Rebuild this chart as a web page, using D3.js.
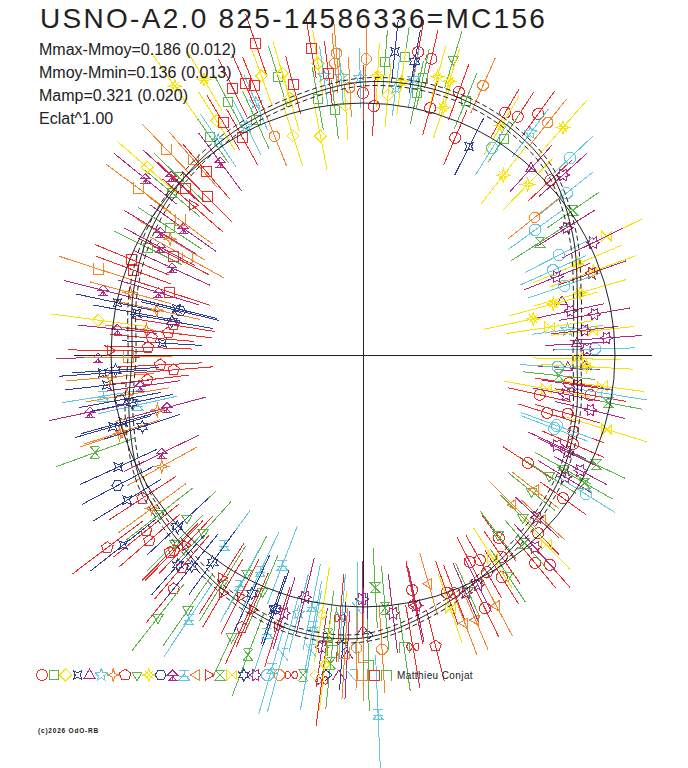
<!DOCTYPE html>
<html lang="en">
<head>
<meta charset="UTF-8">
<title>USNO-A2.0 825-14586336=MC156</title>
<script src="https://d3js.org/d3.v7.min.js"></script>
<style>
  body { margin: 0; background: white; }
  svg { display: block; background: white; font-family: "Liberation Sans", Arial, sans-serif; }
  .title { font-size: 28px; fill: #222; letter-spacing: 2.3px; }
  .stat { font-size: 16px; fill: #222; }
  .author { font-size: 10px; fill: #222; letter-spacing: 0.4px; }
  .copy { font-size: 6.5px; fill: #222; font-weight: bold; letter-spacing: 0.8px; }
  .mark path, .mark line, .legend path { fill: none; stroke-width: 1; shape-rendering: crispEdges; }
  .axis line { stroke: #222; stroke-width: 1; shape-rendering: crispEdges; }
  .curve { fill: none; stroke: #222; stroke-width: 1; }
</style>
</head>
<body>
<div id="container"></div>
<script>
const title = "USNO-A2.0 825-14586336=MC156";
const stats = ["Mmax-Mmoy=0.186 (0.012)", "Mmoy-Mmin=0.136 (0.013)", "Mamp=0.321 (0.020)", "Eclat^1.00"];
const author = "Matthieu Conjat";
const copyright = "(c)2026 OdO-RB";

// mean light curve: phase angle (deg) and magnitude offset from the reference circle
const meanPhase = [0, 15, 30, 45, 60, 75, 90, 105, 120, 135, 150, 165, 180, 195, 210, 225, 240, 255, 270, 285, 300, 315, 330, 345];
const meanMag = [-0.19, -0.15, -0.05, 0.055, 0.10, 0.115, 0.105, 0.06, 0.03, 0.0, -0.03, -0.07, -0.105, -0.05, 0.02, 0.05, 0.11, 0.16, 0.155, 0.07, -0.01, -0.065, -0.105, -0.155];
const meanSigma = 0.02;

// observing sessions: [phase angle deg, mag offset, error]
const s00 = [[352.3,-0.22,0.17],[347.3,-0.355,0.16],[350,-0.105,0.18],[342.5,-0.295,0.15],[344,-0.195,0.17],[340,-0.14,0.16],[337,-0.12,0.17],[70,0.14,0.15],[59.6,0.145,0.14],[57,0.16,0.15],[54,0.23,0.14],[67,-0.08,0.15],[43,0.02,0.15],[79.7,0.28,0.16],[77,0.26,0.15],[90,0.05,0.14],[87.5,-0.015,0.15],[74.8,0.02,0.14],[281.8,-0.06,0.15],[326.8,-0.275,0.15],[324.4,-0.03,0.14],[314.5,-0.01,0.15],[306.6,-0.12,0.14],[309.6,0.09,0.16],[311.7,0.145,0.15],[297.3,-0.095,0.14],[304.5,-0.035,0.16],[299.7,-0.01,0.15],[302,0.05,0.16],[291,0.015,0.15],[295.7,0.145,0.16],[289.4,0,0.17],[299.7,-0.08,0.14]];
const s01 = [[68,0.11,0.15],[57,0.03,0.14],[85.7,0.21,0.16],[82,0.245,0.15],[77.8,0.155,0.15],[78.4,0.08,0.16],[100,0.04,0.16],[96.5,-0.025,0.15],[107,0.195,0.16],[118,0.175,0.15],[114.5,0.03,0.16],[125,0.07,0.16],[136,0.02,0.17],[139.7,-0.01,0.18],[146.7,-0.105,0.19],[153.5,-0.06,0.19]];
const s02 = [[98.8,0.215,0.17],[84.5,0.045,0.16],[101,-0.145,0.17],[107.7,-0.11,0.16],[106,0.205,0.17],[110,0.225,0.16],[105.9,0.075,0.17],[139,0.17,0.2],[172.5,0.075,0.24],[94,-0.01,0.17],[122,0.12,0.17]];
const s03 = [[84,0.265,0.16],[168,-0.005,0.21],[166,-0.3,0.21],[169.5,-0.11,0.22],[176.6,-0.255,0.2],[184,0.045,0.22],[186.7,0.03,0.21],[195.6,-0.015,0.22],[196,0.04,0.2],[204.6,0.085,0.21],[211.6,0.125,0.2],[218.4,0.27,0.21],[250.6,0.09,0.18],[63,-0.09,0.16]];
const s04 = [[15,-0.23,0.17],[356.4,-0.235,0.16],[357,-0.15,0.17],[48,-0.005,0.16],[3,-0.19,0.16]];
const s05 = [[7,-0.23,0.18],[53,0.13,0.15],[98,0.15,0.15],[94.5,0.135,0.14],[90.6,0.125,0.15],[83,0.085,0.14],[79.6,0.145,0.15],[113,0.11,0.15],[117,0.02,0.16],[124,0.035,0.16],[256,0.07,0.2]];
const s06 = [[149,-0.135,0.2],[165,-0.055,0.21],[167.7,-0.205,0.22],[173.4,-0.17,0.21],[185,0.01,0.22],[189.6,-0.065,0.21],[195,-0.195,0.22],[197.7,0.005,0.2],[198,0.02,0.21],[209,-0.11,0.2],[216,0.045,0.21]];
const s07 = [[171,-0.3,0.21],[173.5,-0.28,0.22],[175.4,-0.2,0.21],[178,-0.185,0.22],[182.8,-0.245,0.21],[184.5,-0.31,0.2],[186.6,-0.175,0.21],[213,0.055,0.2],[217,0.34,0.22],[219,0.135,0.21],[221,0.155,0.2],[226,0.1,0.21],[225.6,0.12,0.2],[229.5,0.135,0.21],[231,0.245,0.22],[246,0.23,0.2],[284,0.24,0.18]];
const s08 = [[73,0.285,0.15],[218,0.03,0.21],[222.8,-0.06,0.2],[228,-0.065,0.21],[225,0.07,0.2],[238.4,0.08,0.22],[242,-0.025,0.21],[235.5,0.285,0.22],[232,0.405,0.21],[245,0.295,0.22],[247,0.025,0.2],[330.5,-0.11,0.16],[327,-0.15,0.16],[321,-0.175,0.15],[314.5,-0.12,0.16],[306.9,-0.135,0.15],[303.3,0.06,0.16],[294,0.03,0.15]];
const s09 = [[23,-0.095,0.24],[20,-0.035,0.23],[16,-0.13,0.24],[15,-0.275,0.23],[12,-0.39,0.25],[357,-0.14,0.23],[72.5,0.175,0.17],[72,0.04,0.16],[48.7,0.255,0.18],[58.9,0.08,0.17],[52,-0.12,0.18],[46,-0.075,0.18],[87,0.14,0.16],[82,0.12,0.17],[75,0.18,0.16],[125,0.38,0.2],[120,0.33,0.18]];
const s10 = [[166.5,-0.32,0.2],[190.5,-0.025,0.21],[208,0.13,0.2]];
const s11 = [[137,0.05,0.19],[141,0.14,0.2],[126.5,-0.06,0.18],[144.8,-0.16,0.2],[148.8,-0.075,0.21],[152,-0.11,0.2],[155.5,-0.21,0.21],[166,0.08,0.2],[163,-0.19,0.21],[174,-0.025,0.2],[180.6,0.065,0.21],[188,-0.135,0.2],[191.8,0.135,0.21],[195,-0.245,0.2],[206,-0.14,0.21]];
const s12 = [[189,0.055,0.21],[192.5,-0.105,0.2],[234,-0.08,0.22],[241.9,0.045,0.21],[244.6,-0.06,0.22],[249,-0.135,0.21],[236.6,0.325,0.22],[251,0.21,0.23],[258.5,0.025,0.22],[259.6,0.12,0.23],[253.8,0.37,0.24],[272.4,0.54,0.3]];
const s13 = [[286,-0.07,0.16],[321.9,-0.165,0.15],[315,-0.2,0.16],[317.5,-0.04,0.15],[298,0.16,0.17],[293,0.18,0.16],[290.8,0.175,0.17]];
const s14 = [[138.7,-0.125,0.2],[179,0.005,0.21],[227,0.04,0.2],[237.7,0.06,0.21],[239.5,0.12,0.2],[243,0.095,0.21],[246.5,0.13,0.2],[252.5,0.165,0.21]];
const s15 = [[349,-0.01,0.17],[32.5,-0.21,0.17],[34.6,0.015,0.16],[273,-0.095,0.2],[334.8,0.03,0.16],[330,0.02,0.16],[310.7,-0.02,0.15]];
const s16 = [[8.5,-0.315,0.22],[6,-0.105,0.21],[359,-0.19,0.22],[352.6,-0.055,0.21],[349.5,-0.325,0.22],[343,0.015,0.21],[26,0.095,0.2],[314,0.06,0.17],[302.6,-0.055,0.18],[289,0.08,0.18]];
const s17 = [[170,-0.29,0.21],[183.5,-0.02,0.22],[191.7,-0.08,0.21],[198,-0.1,0.2],[222.8,0.005,0.21],[228.6,0.14,0.2],[231,0.1,0.21],[234,0.02,0.2],[245,0.055,0.21],[251,0.08,0.2],[80,0.23,0.16]];
const s18 = [[22,-0.215,0.18],[12,-0.2,0.17],[10,-0.085,0.18],[6.4,-0.145,0.17],[4,-0.04,0.18],[1.5,-0.14,0.17],[352,-0.175,0.18],[349,-0.225,0.17],[346.4,-0.09,0.18],[42,0.085,0.16],[32,-0.06,0.17],[26,0.02,0.17],[19.7,-0.045,0.18],[253,0.09,0.19],[256.5,-0.015,0.2],[269.8,-0.04,0.19],[276.6,0.04,0.2],[282,0.02,0.19],[262,0.215,0.2],[335,-0.19,0.16],[334.6,-0.13,0.16],[332,-0.03,0.15],[328.9,-0.08,0.16],[317,-0.07,0.15],[311.8,0.03,0.16],[296.6,0.025,0.15],[293.4,0.035,0.16]];
const s19 = [[27,-0.16,0.19],[24,-0.22,0.18],[19,-0.195,0.19],[1.5,-0.1,0.2],[356.5,-0.285,0.19],[351,-0.025,0.2],[58,-0.04,0.16],[43.6,0.17,0.16],[38.5,0.04,0.17],[36,-0.195,0.17],[339,-0.235,0.18],[328,0.055,0.17],[340,-0.23,0.19]];
const s20 = [[66,0.215,0.15],[51.5,0.225,0.15],[95,0.255,0.16],[95.5,0.205,0.15],[89.4,0.22,0.16],[92.8,0.08,0.15],[112,-0.08,0.16],[38.7,-0.16,0.17],[273.7,0.215,0.22],[268.8,0.205,0.21]];
const s21 = [[281.7,0.015,0.2],[279.7,0.22,0.21],[265,0.06,0.22],[262.8,0.38,0.23]];
const s22 = [[354,-0.275,0.18],[200,0.165,0.21],[262.9,0.15,0.22],[275,0.01,0.21],[249,0.345,0.22],[264,0.29,0.23]];
const s23 = [[261,0.055,0.24],[263,0.3,0.23],[266,0.165,0.24]];
const s24 = [[266,0.2,0.22],[271,0.14,0.21]];
const s25 = [[267,0.24,0.22],[270,0.115,0.21]];
const s26 = [[265.4,0.06,0.22],[268.6,0.005,0.23],[260,0.24,0.3],[255,0.29,0.3]];
const s27 = [[133.7,0.16,0.18],[131,0.035,0.18],[143.4,0.14,0.2],[143.6,-0.125,0.2],[151,-0.255,0.21],[162,0.13,0.21],[180.5,-0.085,0.22],[270,0.25,0.22],[266.5,0.235,0.23]];
const s28 = [[109,0.385,0.16],[99.6,0.295,0.15],[97,0.16,0.16],[104.5,0.135,0.15],[116,0.225,0.16],[112,0.195,0.15],[121,0.095,0.16],[119,-0.015,0.16],[130.5,-0.055,0.18],[136.8,-0.04,0.19],[134.6,-0.15,0.18],[152.5,-0.19,0.2],[157.6,-0.01,0.2],[162,-0.245,0.21],[159.7,-0.035,0.2],[113.5,0.22,0.16]];
const s29 = [[264,0.225,0.22],[271,0.29,0.23],[278,0.215,0.22]];

const sessions = [s00,s01,s02,s03,s04,s05,s06,s07,s08,s09,s10,s11,s12,s13,s14,s15,s16,s17,s18,s19,s20,s21,s22,s23,s24,s25,s26,s27,s28,s29];

const width = 688, height = 768;
const cx = 363, cy = 355;
const palette = ["#ee2a2a", "#5cb548", "#f7e400", "#2f3f98", "#b02a84", "#62c8e0", "#f8842a"];

const svg = d3.select("#container").append("svg")
    .attr("width", width)
    .attr("height", height)
    .attr("viewBox", `0 0 ${width} ${height}`);

// scales
const aScale = d3.scaleLinear().domain([0, 360]).range([0, 2 * Math.PI]);
const rScale = d3.scaleLinear().domain([0, 0.2]).range([252, 292]);
const colour = i => palette[i % palette.length];
const px = (deg, r) => cx + r * Math.cos(aScale(deg));
const py = (deg, r) => cy - r * Math.sin(aScale(deg));

// symbol shapes
function poly(n, r, rot) {
    const pts = d3.range(n).map(i => {
        const a = rot + i * 2 * Math.PI / n;
        return [(r * Math.cos(a)).toFixed(2), (r * Math.sin(a)).toFixed(2)];
    });
    return "M" + pts.join("L") + "Z";
}
function star(n, r1, r2, rot) {
    const pts = d3.range(2 * n).map(i => {
        const a = rot + i * Math.PI / n;
        const r = i % 2 ? r2 : r1;
        return [(r * Math.cos(a)).toFixed(2), (r * Math.sin(a)).toFixed(2)];
    });
    return "M" + pts.join("L") + "Z";
}
const up = -Math.PI / 2;
const shapes = [
    poly(24, 5.5, 0),
    "M-4.5,-4.5H4.5V4.5H-4.5Z",
    poly(4, 6, up),
    star(4, 6, 2.4, Math.PI / 4),
    poly(3, 6, up),
    star(5, 6.5, 2.7, up),
    star(4, 6.5, 2, up),
    poly(5, 6, up),
    poly(3, 6, Math.PI / 2),
    star(4, 6.5, 2.2, up) + "M-4,-4L4,4M4,-4L-4,4",
    poly(6, 5.5, 0),
    "M-5,0L0,-5L5,0ZM0,0V5M-5,5H5M-3,5L0,1L3,5",
    "M-5,-5H5M0,-5V-1M-5,5L0,-1L5,5ZM-5,1H5",
    poly(3, 6, Math.PI),
    poly(3, 6, 0),
    "M-5,-5H5L-5,5H5Z",
    "M-5,-5V5L5,-5V5Z",
    star(6, 6, 3.3, up),
    star(6, 6.5, 3.6, 0),
    poly(8, 6, Math.PI / 8),
    poly(8, 5.5, Math.PI / 8),
    "M0,0C-3,-6,-6,-4,-6,0C-6,4,-3,6,0,0C3,-6,6,-4,6,0C6,4,3,6,0,0Z",
    "M-5,-6L5,6M5,-6L-5,6M-4,-6H4M-4,6H4",
    poly(4, 5, up),
    "M-6,0L0,-6M-2,-6L5,0L-2,6",
    "M-6,5L0,-5L6,5",
    "M-5,-6L5,6M-1,-6H5",
    "M-5,-6V5H5V-6",
    "M-5,-5H5V5H-5Z",
    "M-5,6V-5H5V6"
];

// axes through the centre
const axisR = rScale(0.185);
const axes = svg.append("g").attr("class", "axis");
axes.append("line").attr("x1", cx - axisR).attr("x2", cx + axisR).attr("y1", cy).attr("y2", cy);
axes.append("line").attr("x1", cx).attr("x2", cx).attr("y1", cy - axisR).attr("y2", cy + axisR);

// observations
sessions.forEach((pts, s) => {
    const g = svg.append("g").attr("class", "mark").attr("stroke", colour(s));
    g.selectAll("line")
        .data(pts)
        .enter()
        .append("line")
        .attr("stroke", colour(s))
        .attr("x1", d => px(d[0], rScale(d[1] - d[2])))
        .attr("y1", d => py(d[0], rScale(d[1] - d[2])))
        .attr("x2", d => px(d[0], rScale(d[1] + d[2])))
        .attr("y2", d => py(d[0], rScale(d[1] + d[2])));
    g.selectAll("path")
        .data(pts)
        .enter()
        .append("path")
        .attr("stroke", colour(s))
        .attr("d", shapes[s])
        .attr("transform", d => `translate(${px(d[0], rScale(d[1])).toFixed(1)},${py(d[0], rScale(d[1])).toFixed(1)})`);
});

// reference circle and mean light curve
svg.append("circle").attr("class", "curve")
    .attr("cx", cx).attr("cy", cy).attr("r", rScale(0));

const meanLine = off => d3.line()
    .x((d, i) => px(d, rScale(meanMag[i] + off)))
    .y((d, i) => py(d, rScale(meanMag[i] + off)))
    .curve(d3.curveCatmullRomClosed)(meanPhase);

svg.append("path").attr("class", "curve").attr("d", meanLine(0));
svg.append("path").attr("class", "curve").attr("stroke-dasharray", "5,3").attr("d", meanLine(meanSigma));
svg.append("path").attr("class", "curve").attr("stroke-dasharray", "5,3").attr("d", meanLine(-meanSigma));

// texts
svg.append("text").attr("class", "title").attr("x", 40).attr("y", 28).text(title);
svg.selectAll(".stat")
    .data(stats)
    .enter()
    .append("text")
    .attr("class", "stat")
    .attr("x", 39)
    .attr("y", (d, i) => 55 + i * 23)
    .text(d => d);

// legend of sessions
const legend = svg.append("g").attr("class", "legend");
legend.selectAll("path")
    .data(sessions)
    .enter()
    .append("path")
    .attr("stroke", (d, i) => colour(i))
    .attr("d", (d, i) => shapes[i])
    .attr("transform", (d, i) => `translate(${(42 + i * 11.87).toFixed(1)},675)`);
svg.append("text").attr("class", "author").attr("x", 397).attr("y", 679).text(author);
svg.append("text").attr("class", "copy").attr("x", 38).attr("y", 733).text(copyright);
</script>
</body>
</html>
